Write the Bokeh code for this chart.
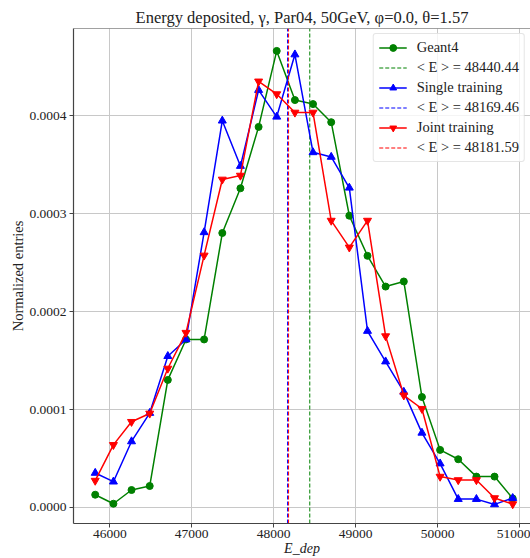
from bokeh.plotting import figure
from bokeh.models import (Range1d, SingleIntervalTicker, PrintfTickFormatter, Legend,
                          LegendItem, Span)
from bokeh.embed import file_html
from bokeh.resources import INLINE

# ---- data ----
bin_centers = [45822, 46044, 46265, 46487, 46708, 46930, 47151, 47373, 47594, 47816,
               48037, 48259, 48480, 48702, 48923, 49145, 49366, 49588, 49809, 50031,
               50252, 50474, 50695, 50917]
geant4 = [0.0000130, 0.0000038, 0.0000178, 0.0000219, 0.0001303, 0.0001716, 0.0001716,
          0.0002803, 0.0003260, 0.0003887, 0.0004663, 0.0004161, 0.0004120, 0.0003935,
          0.0002980, 0.0002570, 0.0002256, 0.0002308, 0.0001128, 0.0000588, 0.0000492,
          0.0000315, 0.0000315, 0.0000092]
single = [0.0000352, 0.0000263, 0.0000674, 0.0000964, 0.0001545, 0.0001716, 0.0002810,
          0.0003950, 0.0003487, 0.0004263, 0.0003990, 0.0004626, 0.0003627, 0.0003580,
          0.0003265, 0.0001802, 0.0001490, 0.0001180, 0.0000762, 0.0000448, 0.0000085,
          0.0000085, 0.0000031, 0.0000095]
joint = [0.0000274, 0.0000639, 0.0000875, 0.0000960, 0.0001419, 0.0001785, 0.0002574,
         0.0003350, 0.0003390, 0.0004352, 0.0004222, 0.0004034, 0.0004034, 0.0002930,
         0.0002656, 0.0002930, 0.0001750, 0.0001145, 0.0001008, 0.0000315, 0.0000280,
         0.0000280, 0.0000096, 0.0000034]
mean_geant4 = 48440.44
mean_single = 48169.46
mean_joint = 48181.59
series_names = ["Geant4", "Single training", "Joint training"]
title_text = "Energy deposited, γ, Par04, 50GeV, φ=0.0, θ=1.57"
x_label = "E_dep"
y_label = "Normalized entries"

SERIF = "Liberation Serif"
x_lo, x_hi = 45557, 51134
y_lo, y_hi = -0.0000164, 0.0004892

p = figure(width=530, height=558, output_backend="svg", toolbar_location=None,
           x_range=Range1d(x_lo, x_hi), y_range=Range1d(y_lo, y_hi),
           min_border_left=73, min_border_right=0, min_border_top=28,
           min_border_bottom=30)
p.outline_line_color = None
p.background_fill_color = "white"
p.border_fill_color = "white"

p.title.text = title_text
p.title.text_font = SERIF
p.title.text_font_size = "16.5px"
p.title.text_font_style = "normal"
p.title.align = "center"
p.title.standoff = 4
p.title.text_color = "#222222"

for ax in (p.xaxis[0], p.yaxis[0]):
    ax.major_label_text_font = SERIF
    ax.major_label_text_font_size = "13.5px"
    ax.major_label_text_color = "#222222"
    ax.axis_line_color = "#444444"
    ax.axis_line_width = 1.2
    ax.major_tick_line_color = "#444444"
    ax.major_tick_out = 4
    ax.major_tick_in = 0
    ax.minor_tick_line_color = None
    ax.major_label_standoff = 3
    ax.axis_label_text_font = SERIF
    ax.axis_label_text_color = "#222222"
    ax.axis_label_standoff = 0

p.xaxis.major_label_standoff = 2
p.xaxis.axis_label = x_label
p.xaxis.axis_label_text_font_size = "14px"
p.xaxis.axis_label_text_font_style = "italic"
p.xaxis.ticker = SingleIntervalTicker(interval=1000)

p.yaxis.ticker = SingleIntervalTicker(interval=0.0001)
p.yaxis.formatter = PrintfTickFormatter(format="%.4f")
p.yaxis.axis_label = y_label
p.yaxis.axis_label_text_font_size = "14.5px"
p.yaxis.axis_label_text_font_style = "normal"

p.xgrid.ticker = SingleIntervalTicker(interval=1000)
p.ygrid.ticker = SingleIntervalTicker(interval=0.0001)
for g in (p.xgrid[0], p.ygrid[0]):
    g.grid_line_color = "#c8c8c8"
    g.grid_line_width = 1

# top spine
p.add_layout(Span(location=y_hi, dimension="width", line_color="#444444", line_width=1.2))

colors = ["#008000", "#0000ff", "#ff0000"]
markers = ["circle", "triangle", "inverted_triangle"]
msizes = [7, 8, 8]
series = [geant4, single, joint]
means = [mean_geant4, mean_single, mean_joint]

items = []
for name, vals, mean, c, m, ms in zip(series_names, series, means, colors, markers, msizes):
    ln = p.line(bin_centers, vals, line_color=c, line_width=1.5)
    sc = p.scatter(bin_centers, vals, marker=m, size=ms, fill_color=c, line_color=c)
    vs = p.segment(x0=[mean], y0=[y_lo], x1=[mean], y1=[y_hi],
                   line_color=c, line_width=1, line_dash="4 2")
    items.append(LegendItem(label=name, renderers=[ln, sc]))
    items.append(LegendItem(label="< E > = %.2f" % mean, renderers=[vs]))

legend = Legend(items=items, location="top_right")
legend.label_text_font = SERIF
legend.label_text_font_size = "14.5px"
legend.label_text_color = "#222222"
legend.glyph_width = 28
legend.glyph_height = 17
legend.label_height = 17
legend.spacing = 3
legend.padding = 5
legend.label_standoff = 10
legend.margin = 5
legend.border_line_color = "#cccccc"
legend.border_line_width = 1
legend.border_radius = 3
legend.background_fill_alpha = 0.8
p.add_layout(legend, "center")

open("out.html", "w").write(file_html(p, INLINE))
